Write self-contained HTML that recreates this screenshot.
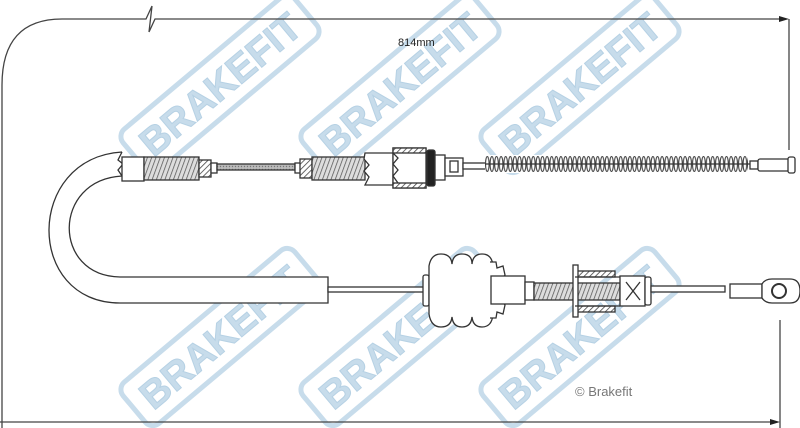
<!DOCTYPE html>
<html><head><meta charset="utf-8"><style>
html,body{margin:0;padding:0;background:#fff;width:800px;height:428px;overflow:hidden}
svg{display:block}
</style></head><body>
<svg width="800" height="428" viewBox="0 0 800 428" xmlns="http://www.w3.org/2000/svg">
<defs>
<pattern id="hatch" width="4" height="4" patternUnits="userSpaceOnUse" patternTransform="rotate(45)">
<rect width="4" height="4" fill="#fff"/><line x1="0" y1="0" x2="0" y2="4" stroke="#444" stroke-width="1.6"/></pattern>
<pattern id="thread" width="4" height="6" patternUnits="userSpaceOnUse" patternTransform="rotate(20)">
<rect width="4" height="6" fill="#ddd"/><line x1="0" y1="0" x2="0" y2="6" stroke="#555" stroke-width="1.5"/></pattern>
<pattern id="fine" width="3" height="3" patternUnits="userSpaceOnUse">
<rect width="3" height="3" fill="#bbb"/><circle cx="1.5" cy="1.5" r="0.7" fill="#777"/></pattern>
<pattern id="coil" width="4.6" height="18" patternUnits="userSpaceOnUse" x="485" y="155">
<rect width="4.6" height="18" fill="#fff"/><ellipse cx="2.3" cy="9" rx="1.8" ry="7.5" fill="none" stroke="#444" stroke-width="1.1"/></pattern>
<g id="wm">
<rect x="-112" y="-27" width="224" height="54" rx="10" fill="none" stroke="#c7dceb" stroke-width="5"/>
<text x="0" y="14" text-anchor="middle" font-family="Liberation Sans, sans-serif" font-weight="bold" font-size="39" fill="#c7dceb" stroke="#b6d1e4" stroke-width="1">BRAKEFIT</text>
</g>
</defs>

<use href="#wm" transform="translate(220,84) rotate(-40)"/>
<use href="#wm" transform="translate(400,84) rotate(-40)"/>
<use href="#wm" transform="translate(580,84) rotate(-40)"/>
<use href="#wm" transform="translate(220,337) rotate(-40)"/>
<use href="#wm" transform="translate(400,337) rotate(-40)"/>
<use href="#wm" transform="translate(580,337) rotate(-40)"/>

<g stroke="#444" stroke-width="1.3" fill="none">
<path d="M2,428 L2,85 Q2,19 62,19 L146,19 L152,6 L149,32 L155,19 L782,19"/>
<line x1="789" y1="19" x2="789" y2="150"/>
<line x1="0" y1="422" x2="774" y2="422"/>
<line x1="780" y1="320" x2="780" y2="428"/>
</g>
<polygon points="789,19 779,16 779,22" fill="#222"/>
<polygon points="780,422 770,419 770,425" fill="#222"/>
<text x="398" y="46" font-family="Liberation Sans, sans-serif" font-size="11" fill="#222">814mm</text>
<text x="575" y="396" font-family="Liberation Sans, sans-serif" font-size="13" fill="#777">© Brakefit</text>

<g stroke="#333" stroke-width="1.3">
<path d="M122,152 C25,158 25,303 120,303 L328,303 L328,277 L120,277 C52,276 52,180 122,176" fill="#fff"/>
<path d="M122,152 L118,160 L123,164 L118,170 L122,176" fill="none"/>
<rect x="122" y="157" width="22" height="24" fill="#fff"/>
<rect x="144" y="157" width="55" height="23" fill="url(#thread)"/>
<rect x="199" y="160" width="12" height="17" fill="url(#hatch)"/>
<rect x="211" y="163" width="6" height="10" fill="#fff"/>
<rect x="217" y="164" width="78" height="6" fill="url(#fine)"/>
<rect x="295" y="163" width="6" height="10" fill="#fff"/>
<rect x="300" y="159" width="12" height="19" fill="url(#hatch)"/>
<rect x="312" y="157" width="53" height="23" fill="url(#thread)"/>
<path d="M365,153 L393,153 L393,185 L365,185 L369,177 L364,171 L369,165 L364,159 Z" fill="#fff"/>
<rect x="393" y="148" width="33" height="40" fill="#fff"/>
<rect x="393" y="148" width="33" height="5" fill="url(#hatch)"/>
<rect x="393" y="183" width="33" height="5" fill="url(#hatch)"/>
<path d="M393,153 L398,158 L393,164 L398,170 L393,176 L398,183" fill="none"/>
<rect x="427" y="150" width="8" height="36" rx="2" fill="#222"/>
<rect x="435" y="155" width="10" height="25" fill="#fff"/>
<rect x="445" y="158" width="18" height="18" fill="#fff"/>
<rect x="450" y="161" width="8" height="11" fill="#fff"/>
<rect x="463" y="163" width="24" height="6" fill="#fff"/>
<rect x="485" y="155" width="263" height="18" fill="url(#coil)" stroke="none"/>
<line x1="485" y1="164" x2="750" y2="164"/>
<rect x="750" y="161" width="8" height="8" fill="#fff"/>
<rect x="758" y="159" width="32" height="12" rx="2" fill="#fff"/>
<rect x="788" y="157" width="7" height="16" rx="2" fill="#fff"/>

<rect x="328" y="287" width="96" height="5" fill="#fff"/>
<rect x="423" y="275" width="6" height="31" rx="2" fill="#fff"/>
<path d="M429,266 Q431,254 441,254 Q451,254 452,264 Q453,254 462,254 Q472,254 472,264 Q473,254 482,254 Q492,254 493,266 L493,314 Q492,327 482,327 Q473,327 472,317 Q471,327 462,327 Q453,327 452,317 Q451,327 441,327 Q431,327 429,314 Z" fill="#fff"/>
<path d="M490,262 L496,262 L497,268 L503,266 L505,275 L499,282 L506,290 L499,297 L505,305 L503,314 L497,312 L496,318 L490,318" fill="#fff"/>
<rect x="491" y="276" width="34" height="28" fill="#fff"/>
<rect x="525" y="282" width="9" height="18" fill="#fff"/>
<rect x="534" y="283" width="86" height="17" fill="url(#thread)"/>
<rect x="575" y="271" width="40" height="6" fill="url(#hatch)"/>
<rect x="575" y="306" width="40" height="6" fill="url(#hatch)"/>
<rect x="573" y="265" width="5" height="52" fill="#fff"/>
<line x1="575" y1="277" x2="620" y2="277"/>
<line x1="575" y1="306" x2="620" y2="306"/>
<rect x="620" y="276" width="25" height="30" fill="#fff"/>
<line x1="626" y1="282" x2="640" y2="300"/><line x1="640" y1="282" x2="626" y2="300"/>
<rect x="645" y="277" width="6" height="28" rx="2" fill="#fff"/>
<rect x="651" y="286" width="74" height="6" fill="#fff"/>
<rect x="730" y="284" width="32" height="14" fill="#fff"/>
<path d="M762,284 Q765,279 772,279 L790,279 Q800,279 800,291 Q800,303 790,303 L772,303 Q765,303 762,298 Z" fill="#fff"/>
<circle cx="779" cy="291" r="7" fill="#fff" stroke-width="2"/>
</g>
</svg>
</body></html>
